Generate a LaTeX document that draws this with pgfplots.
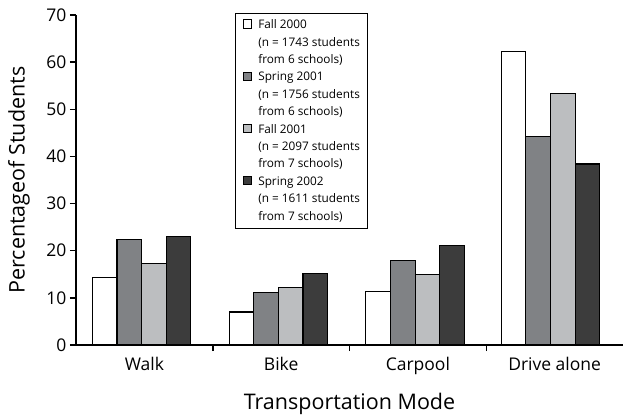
\documentclass[border=0pt]{standalone}
\usepackage{pgfplots}
\pgfplotsset{compat=1.18}
\usepackage{fontspec}
\setmainfont{Open Sans}
\definecolor{cA}{HTML}{FFFFFF}
\definecolor{cB}{HTML}{808285}
\definecolor{cC}{HTML}{BCBEC0}
\definecolor{cD}{HTML}{3C3C3C}
\begin{document}
\begin{tikzpicture}
\begin{axis}[
  scale only axis,
  width=547bp, height=330bp,
  ybar=0pt, bar width=24.6bp,
  xmin=-0.5, xmax=3.5,
  ymin=0, ymax=70,
  axis lines=left,
  axis line style={line width=2bp, -},
  xtick={0,1,2,3},
  xticklabels={Walk,Bike,Carpool,Drive alone},
  major x tick style={draw=none},
  minor xtick={0.5,1.5,2.5},
  minor x tick style={line width=1.5bp, black},
  minor tick length=6bp,
  ytick={0,10,...,70},
  y tick style={line width=1.5bp, black},
  major tick length=6bp,
  tick align=outside,
  /pgf/number format/assume math mode=true,
  tick label style={font=\fontsize{17.5bp}{20bp}\selectfont},
  ticklabel style={text=black},
  x tick label style={yshift=-3bp},
  xlabel={Transportation Mode},
  ylabel={Percentageof Students},
  label style={font=\fontsize{21.5bp}{24bp}\selectfont},
  xlabel style={at={(axis description cs:0.5,-0.1788)}, anchor=center},
  ylabel style={at={(axis description cs:-0.1042,0.5)}, anchor=center},
  legend style={at={(0.290,1.006)}, anchor=north west, draw=black, line width=1.3bp,
    font=\fontsize{11.8bp}{14bp}\selectfont, cells={anchor=base west},
    nodes={inner sep=0pt, text height=9.5bp, text depth=2.8bp}, column sep=6.3bp,
    row sep=5.1bp, inner xsep=7.3bp, inner ysep=5.5bp},
  legend image code/.code={\draw[#1, line width=1bp] (0bp,0.3bp) rectangle (8.4bp,8.7bp);},
  every axis plot/.append style={draw=black, line width=1.1bp},
  clip=false,
]
\addplot[fill=cA, bar shift=-36.9bp] coordinates {(-0.02,14.3) (0.98,7.0) (1.98,11.3) (2.97,62.2)};
\addlegendimage{empty legend}
\addlegendimage{empty legend}
\addplot[fill=cB, bar shift=-12.3bp] coordinates {(-0.02,22.3) (0.98,11.2) (1.98,18.0) (2.97,44.3)};
\addlegendimage{empty legend}
\addlegendimage{empty legend}
\addplot[fill=cC, bar shift=12.3bp] coordinates {(-0.02,17.2) (0.98,12.2) (1.98,15.0) (2.97,53.3)};
\addlegendimage{empty legend}
\addlegendimage{empty legend}
\addplot[fill=cD, bar shift=36.9bp] coordinates {(-0.02,23.1) (0.98,15.1) (1.98,21.1) (2.97,38.4)};
\addlegendimage{empty legend}
\addlegendimage{empty legend}
\legend{{Fall 2000}, {(n = 1743 students}, {from 6 schools)},
        {Spring 2001}, {(n = 1756 students}, {from 6 schools)},
        {Fall 2001}, {(n = 2097 students}, {from 7 schools)},
        {Spring 2002}, {(n = 1611 students}, {from 7 schools)}}
\end{axis}
\pgfresetboundingbox
\path ([shift={(-76bp,-72bp)}]current axis.south west) rectangle ([shift={(0bp,15bp)}]current axis.north east);
\end{tikzpicture}
\end{document}
